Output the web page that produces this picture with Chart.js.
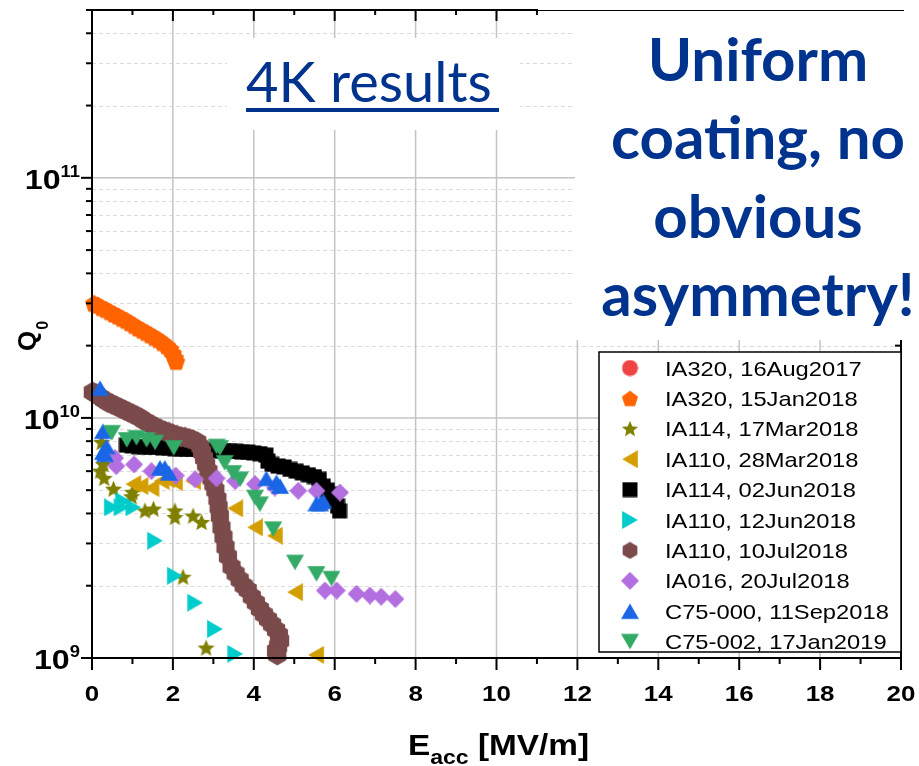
<!DOCTYPE html>
<html>
<head>
<meta charset="utf-8">
<script src="https://cdn.jsdelivr.net/npm/chart.js@4.4.0/dist/chart.umd.min.js"></script>
<style>
html, body { margin: 0; padding: 0; background: #fff; }
canvas { display: block; }
</style>
</head>
<body>
<canvas id="chartQ0" width="919" height="766"></canvas>
<script>
'use strict'

// Q0 vs Eacc at 4K, one [Eacc, Q0] list per cavity test
const ia320Aug = [];
const ia320Jan = [
	[0.05, 3.0e10], [0.15, 2.95e10], [0.25, 2.88e10], [0.35, 2.83e10], [0.45, 2.77e10],
	[0.55, 2.71e10], [0.65, 2.66e10], [0.75, 2.6e10], [0.85, 2.55e10], [0.95, 2.49e10],
	[1.05, 2.43e10], [1.15, 2.37e10], [1.25, 2.32e10], [1.35, 2.27e10], [1.45, 2.22e10],
	[1.55, 2.17e10], [1.65, 2.12e10], [1.75, 2.06e10], [1.85, 2.0e10], [1.93, 1.94e10],
	[2.0, 1.86e10], [2.05, 1.78e10], [2.08, 1.72e10]
];
const ia114Mar = [
	[0.24, 7.9e9], [0.28, 6.4e9], [0.2, 6.0e9], [0.3, 5.6e9], [0.53, 5.05e9], [0.98, 4.7e9],
	[1.0, 4.9e9], [1.31, 4.1e9], [1.52, 4.17e9], [2.05, 4.1e9], [2.05, 3.85e9], [2.5, 3.9e9],
	[2.71, 3.67e9], [2.25, 2.17e9], [2.82, 1.1e9]
];
const ia110Mar = [
	[1.02, 5.3e9], [1.2, 5.2e9], [1.47, 5.1e9], [1.72, 5.46e9], [1.85, 5.55e9], [2.05, 5.4e9],
	[2.5, 5.46e9], [3.54, 4.2e9], [4.03, 3.5e9], [4.52, 3.23e9], [5.02, 1.88e9], [5.54, 1.03e9]
];
const ia114Jun = [
	[0.85, 7.7e9], [1.0, 7.65e9], [1.15, 7.6e9], [1.3, 7.6e9], [1.45, 7.55e9], [1.6, 7.55e9],
	[1.75, 7.5e9], [1.9, 7.5e9], [2.05, 7.45e9], [2.2, 7.45e9], [2.35, 7.4e9], [2.5, 7.4e9],
	[2.65, 7.4e9], [2.8, 7.35e9], [2.95, 7.35e9], [3.1, 7.3e9], [3.25, 7.3e9], [3.4, 7.25e9],
	[3.55, 7.25e9], [3.7, 7.2e9], [3.85, 7.2e9], [4.0, 7.15e9], [4.15, 7.1e9], [4.3, 7.0e9],
	[4.35, 6.6e9], [4.45, 6.4e9], [4.6, 6.3e9], [4.75, 6.25e9], [4.9, 6.1e9], [5.05, 6.0e9],
	[5.2, 5.9e9], [5.35, 5.8e9], [5.5, 5.7e9], [5.62, 5.55e9], [5.72, 5.2e9], [5.82, 5.0e9],
	[5.92, 4.8e9], [6.0, 4.5e9], [6.07, 4.3e9], [6.12, 4.1e9]
];
const ia110Jun = [
	[0.49, 4.24e9], [0.77, 4.5e9], [0.73, 4.24e9], [1.02, 4.24e9], [1.56, 3.08e9],
	[2.05, 2.2e9], [2.55, 1.7e9], [3.04, 1.32e9], [3.54, 1.04e9]
];
const ia110Jul = [
	[0.02, 1.28e10], [0.1, 1.26e10], [0.2, 1.22e10], [0.3, 1.19e10], [0.4, 1.16e10], [0.5, 1.14e10],
	[0.6, 1.12e10], [0.7, 1.1e10], [0.8, 1.08e10], [0.9, 1.06e10], [1.0, 1.04e10], [1.1, 1.02e10],
	[1.2, 1.0e10], [1.3, 9.7e9], [1.4, 9.5e9], [1.5, 9.3e9], [1.6, 9.1e9], [1.7, 8.95e9],
	[1.8, 8.8e9], [1.9, 8.7e9], [2.0, 8.55e9], [2.1, 8.45e9], [2.2, 8.35e9], [2.3, 8.3e9],
	[2.4, 8.2e9], [2.5, 8.1e9], [2.6, 7.95e9], [2.68, 7.6e9], [2.72, 7.2e9], [2.77, 6.8e9],
	[2.82, 6.4e9], [2.88, 6.0e9], [2.95, 5.6e9], [3.0, 5.3e9], [3.05, 5.0e9], [3.1, 4.6e9],
	[3.13, 4.25e9], [3.16, 3.9e9], [3.2, 3.5e9], [3.25, 3.2e9], [3.3, 2.9e9], [3.36, 2.65e9],
	[3.45, 2.4e9], [3.55, 2.25e9], [3.65, 2.12e9], [3.75, 2.0e9], [3.85, 1.92e9], [3.95, 1.8e9],
	[4.05, 1.7e9], [4.15, 1.6e9], [4.25, 1.52e9], [4.35, 1.45e9], [4.45, 1.38e9], [4.55, 1.31e9],
	[4.62, 1.25e9], [4.65, 1.18e9], [4.6, 1.12e9], [4.55, 1.07e9], [4.58, 1.03e9]
];
const ia016Jul = [
	[0.57, 6.8e9], [0.6, 6.3e9], [1.04, 6.4e9], [1.47, 6.0e9], [2.07, 5.75e9], [2.55, 5.55e9],
	[3.08, 5.6e9], [3.54, 5.46e9], [4.03, 5.3e9], [4.52, 5.13e9], [5.1, 4.97e9], [5.55, 4.97e9],
	[6.13, 4.89e9], [5.76, 1.91e9], [6.05, 1.91e9], [6.54, 1.85e9], [6.87, 1.82e9], [7.15, 1.8e9],
	[7.5, 1.76e9]
];
const c75000 = [
	[0.2, 1.33e10], [0.27, 8.8e9], [0.36, 7.6e9], [0.27, 7.2e9], [0.32, 7.05e9], [1.68, 6.2e9],
	[1.8, 6.2e9], [1.9, 5.9e9], [4.31, 5.6e9], [4.56, 5.4e9], [4.65, 5.2e9], [5.55, 4.4e9],
	[5.64, 4.4e9], [5.72, 4.5e9]
];
const c75002 = [
	[0.49, 8.67e9], [0.86, 8.1e9], [1.1, 8.26e9], [1.35, 8.1e9], [1.56, 7.9e9], [2.02, 7.5e9],
	[3.08, 7.6e9], [3.16, 7.5e9], [3.28, 6.5e9], [3.49, 5.9e9], [3.66, 5.55e9], [4.03, 4.66e9],
	[4.15, 4.37e9], [4.48, 3.44e9], [5.02, 2.5e9], [5.55, 2.24e9], [5.92, 2.14e9]
];

const seriesLabels = [
	'IA320, 16Aug2017', 'IA320, 15Jan2018', 'IA114, 17Mar2018', 'IA110, 28Mar2018',
	'IA114, 02Jun2018', 'IA110, 12Jun2018', 'IA110, 10Jul2018', 'IA016, 20Jul2018',
	'C75-000, 11Sep2018', 'C75-002, 17Jan2019'
];
const seriesData = [ia320Aug, ia320Jan, ia114Mar, ia110Mar, ia114Jun, ia110Jun, ia110Jul, ia016Jul, c75000, c75002];
const seriesColors = ['#f04444', '#ff6400', '#808000', '#d39e00', '#000000', '#00cccc', '#7b4a4a', '#b36fdf', '#1a66e6', '#33aa66'];
const seriesShapes = ['circle', 'pentagon', 'star', 'left', 'square', 'right', 'hexagon', 'diamond', 'up', 'down'];
const seriesSizes = [17, 20, 19, 18, 16, 18, 22, 18, 18, 18];

const xTicks = [0, 2, 4, 6, 8, 10, 12, 14, 16, 18, 20];
const yDecades = [9, 10, 11];

const navy = '#00338d';

function marker(shape, color, size) {
	const c = document.createElement('canvas');
	c.width = size;
	c.height = size;
	const g = c.getContext('2d');
	const r = size / 2;
	const R = r - 0.5;
	const h = size * 0.87;
	g.fillStyle = color;
	g.beginPath();
	if (shape === 'circle') {
		g.arc(r, r, R, 0, Math.PI * 2);
	} else if (shape === 'square') {
		g.rect(0.5, 0.5, size - 1, size - 1);
	} else if (shape === 'diamond') {
		g.moveTo(r, 0); g.lineTo(size, r); g.lineTo(r, size); g.lineTo(0, r);
	} else if (shape === 'pentagon' || shape === 'hexagon') {
		const n = shape === 'pentagon' ? 5 : 6;
		const cy = shape === 'pentagon' ? r + R * 0.095 : r;
		for (let k = 0; k < n; k++) {
			const a = -Math.PI / 2 + k * 2 * Math.PI / n;
			g.lineTo(r + R * Math.cos(a), cy + R * Math.sin(a));
		}
	} else if (shape === 'star') {
		for (let k = 0; k < 10; k++) {
			const a = -Math.PI / 2 + k * Math.PI / 5;
			const rr = k % 2 === 0 ? R : R * 0.45;
			g.lineTo(r + rr * Math.cos(a), r + 0.06 * R + rr * Math.sin(a));
		}
	} else if (shape === 'up') {
		g.moveTo(r, r - h / 2); g.lineTo(size, r + h / 2); g.lineTo(0, r + h / 2);
	} else if (shape === 'down') {
		g.moveTo(r, r + h / 2); g.lineTo(size, r - h / 2); g.lineTo(0, r - h / 2);
	} else if (shape === 'left') {
		g.moveTo(r - h / 2, r); g.lineTo(r + h / 2, 0); g.lineTo(r + h / 2, size);
	} else if (shape === 'right') {
		g.moveTo(r + h / 2, r); g.lineTo(r - h / 2, 0); g.lineTo(r - h / 2, size);
	}
	g.closePath();
	g.fill();
	return c;
}

const markers = seriesShapes.map((s, i) => marker(s, seriesColors[i], seriesSizes[i]));
const legendMarkers = seriesShapes.map((s, i) => marker(s, seriesColors[i], Math.min(seriesSizes[i], 18)));

// stretched text, the original picture is wider than it is tall
function txt(ctx, s, x, y, font, align, sx, color) {
	ctx.save();
	ctx.font = font;
	ctx.fillStyle = color || '#000';
	ctx.textAlign = 'left';
	ctx.textBaseline = 'alphabetic';
	const w = ctx.measureText(s).width * sx;
	const x0 = align === 'center' ? x - w / 2 : align === 'right' ? x - w : x;
	ctx.translate(x0, y);
	ctx.scale(sx, 1);
	ctx.fillText(s, 0, 0);
	ctx.restore();
	return w;
}

function hline(ctx, x1, x2, y) {
	ctx.beginPath(); ctx.moveTo(x1, y); ctx.lineTo(x2, y); ctx.stroke();
}
function vline(ctx, x, y1, y2) {
	ctx.beginPath(); ctx.moveTo(x, y1); ctx.lineTo(x, y2); ctx.stroke();
}

const gridPlugin = {
	id: 'gridPlugin',
	beforeDatasetsDraw(chart) {
		const { ctx, chartArea: { left, right, top, bottom }, scales: { x, y } } = chart;
		ctx.save();
		// minor dashed lines
		ctx.strokeStyle = '#dcdcdc';
		ctx.lineWidth = 1;
		ctx.setLineDash([4, 3]);
		yDecades.forEach(e => {
			for (let m = 2; m <= 9; m++) {
				const v = m * Math.pow(10, e);
				if (v > y.max) return;
				hline(ctx, left, right, Math.round(y.getPixelForValue(v)) + 0.5);
			}
		});
		ctx.setLineDash([]);
		ctx.strokeStyle = '#c4c4c4';
		ctx.lineWidth = 1.5;
		yDecades.slice(1).forEach(e => hline(ctx, left, right, y.getPixelForValue(Math.pow(10, e))));
		xTicks.slice(1, -1).forEach(v => vline(ctx, x.getPixelForValue(v), top, bottom));
		ctx.restore();
	},
	afterDatasetsDraw(chart) {
		const { ctx, chartArea: { left, right, top, bottom }, scales: { x, y } } = chart;
		ctx.save();
		ctx.strokeStyle = '#000';
		ctx.lineWidth = 2;
		// frame
		vline(ctx, left, top - 1, bottom + 1);
		hline(ctx, left - 1, right + 1, bottom);
		vline(ctx, right, top, bottom + 1);
		// x ticks, bottom outward, top inward
		for (let v = 0; v <= 20; v++) {
			const px = x.getPixelForValue(v);
			const len = v % 2 === 0 ? 12 : 6;
			vline(ctx, px, bottom, bottom + len);
			vline(ctx, px, top, top + len - 1);
		}
		// y ticks, left outward, right inward
		yDecades.forEach(e => {
			for (let m = 1; m <= 9; m++) {
				const v = m * Math.pow(10, e);
				if (v > y.max) return;
				const py = y.getPixelForValue(v);
				const len = m === 1 ? 11 : 6;
				hline(ctx, left - len, left, py);
				hline(ctx, right - len, right, py);
			}
		});

		// text boxes over the plot
		ctx.fillStyle = '#fff';
		ctx.fillRect(227, 38, 293, 92);
		ctx.fillRect(575, 9, 344, 331);
		ctx.fillRect(538, 5, 381, 4);
		hline(ctx, left - 1, 538, top);
		ctx.lineWidth = 1;
		hline(ctx, 538, 904, top + 0.5);

		txt(ctx, '4K results', 246, 102, '56px Lato', 'left', 1, navy);
		ctx.fillStyle = navy;
		ctx.fillRect(246, 108, 253, 4);
		const blueLines = ['Uniform', 'coating, no', 'obvious', 'asymmetry!'];
		const blueBase = [81, 159, 238, 316];
		blueLines.forEach((s, i) => txt(ctx, s, 758, blueBase[i], 'bold 60px Lato', 'center', 1, navy));

		// tick labels
		xTicks.forEach(v => txt(ctx, String(v), x.getPixelForValue(v), 701, 'bold 22px "Liberation Sans"', 'center', 1.18));
		yDecades.forEach(e => {
			const py = y.getPixelForValue(Math.pow(10, e));
			ctx.font = 'bold 16px "Liberation Sans"';
			const ws = ctx.measureText(String(e)).width * 1.15;
			txt(ctx, String(e), 80, py - 1, 'bold 16px "Liberation Sans"', 'right', 1.15);
			txt(ctx, '10', 80 - ws, py + 11, 'bold 28px "Liberation Sans"', 'right', 1.15);
		});

		// axis titles
		let ex = 408;
		ex += txt(ctx, 'E', ex, 755, 'bold 29px "Liberation Sans"', 'left', 1.15);
		ex += txt(ctx, 'acc', ex, 764, 'bold 20px "Liberation Sans"', 'left', 1.15);
		txt(ctx, ' [MV/m]', ex, 755, 'bold 29px "Liberation Sans"', 'left', 1.15);

		ctx.save();
		ctx.translate(36, 351);
		ctx.rotate(-Math.PI / 2);
		const wq = txt(ctx, 'Q', 0, 0, 'bold 26px "Liberation Sans"', 'left', 1);
		txt(ctx, '0', wq + 1, 12, 'bold 16px "Liberation Sans"', 'left', 1);
		ctx.restore();

		// legend
		ctx.fillStyle = '#fff';
		ctx.fillRect(599, 352, 302, 300);
		ctx.strokeStyle = '#000';
		ctx.lineWidth = 1.5;
		ctx.strokeRect(599, 352, 302, 300);
		seriesLabels.forEach((s, i) => {
			const cy = 368 + i * 30.4;
			const m = legendMarkers[i];
			ctx.drawImage(m, 630 - m.width / 2, cy - m.height / 2);
			txt(ctx, s, 665, cy + 7.5, '21px "Liberation Sans"', 'left', 1.13);
		});
		ctx.restore();
	},
};

const datasets = seriesData.map((pts, i) => ({
	label: seriesLabels[i],
	data: pts.map(p => ({ x: p[0], y: p[1] })),
	pointStyle: markers[i],
	pointRadius: 9,
	showLine: false,
	clip: false,
	order: seriesData.length - i,
}));

const chartQ0 = new Chart(document.getElementById('chartQ0'), {
	type: 'scatter',
	data: { datasets: datasets },
	options: {
		responsive: false,
		animation: false,
		events: [],
		layout: { padding: { left: 0, right: 18, top: 7, bottom: 0 } },
		plugins: {
			legend: { display: false },
			tooltip: { enabled: false },
		},
		scales: {
			x: {
				type: 'linear',
				min: 0,
				max: 20,
				ticks: { display: false },
				grid: { display: false },
				border: { display: false },
				afterFit: s => { s.height = 108; },
			},
			y: {
				type: 'logarithmic',
				min: 1e9,
				max: 5e11,
				ticks: { display: false },
				grid: { display: false },
				border: { display: false },
				afterFit: s => { s.width = 92; },
			},
		},
	},
	plugins: [gridPlugin],
});
</script>
</body>
</html>
